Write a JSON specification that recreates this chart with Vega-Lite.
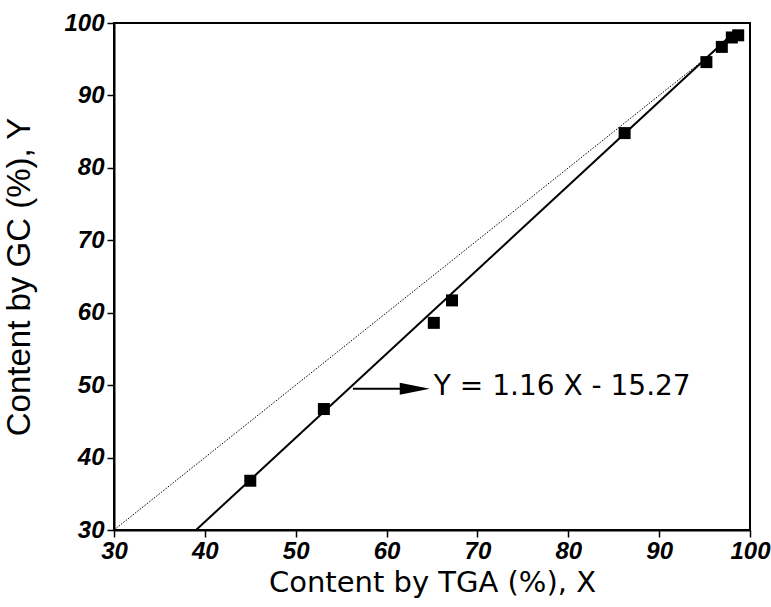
{
  "$schema": "https://vega.github.io/schema/vega-lite/v6.json",
  "width": 636,
  "height": 507,
  "autosize": "none",
  "padding": {"left": 114, "top": 23, "right": 21, "bottom": 77},
  "background": "white",
  "config": {
    "view": {"stroke": "black", "strokeWidth": 2},
    "font": "Liberation Sans",
    "axis": {
      "grid": false,
      "domainColor": "black",
      "domainWidth": 2,
      "tickColor": "black",
      "tickWidth": 1.5,
      "tickSize": 7,
      "labelFlush": false,
      "labelFont": "Liberation Sans",
      "labelFontStyle": "italic",
      "labelFontWeight": "bold",
      "labelFontSize": 24,
      "labelColor": "black",
      "titleFontWeight": "normal",
      "titleColor": "black"
    }
  },
  "datasets": {
    "points": [
      {"x": 45.0, "y": 36.8},
      {"x": 53.1, "y": 46.7},
      {"x": 65.2, "y": 58.6},
      {"x": 67.2, "y": 61.7},
      {"x": 86.2, "y": 84.8},
      {"x": 95.2, "y": 94.6},
      {"x": 96.9, "y": 96.7},
      {"x": 98.0, "y": 98.0},
      {"x": 98.7, "y": 98.3}
    ],
    "fit": [
      {"x": 39.03, "y": 30.0},
      {"x": 98.5, "y": 99.0}
    ],
    "identity": [
      {"x": 30, "y": 30},
      {"x": 95, "y": 95}
    ],
    "arrow": [
      {"x": 56.3, "y": 49.5},
      {"x": 62.0, "y": 49.5}
    ],
    "head": [
      {"x": 63.1, "y": 49.5}
    ],
    "label": [
      {"x": 65.2, "y": 49.7, "text": "Y = 1.16 X - 15.27"}
    ]
  },
  "layer": [
    {
      "data": {"name": "identity"},
      "mark": {"type": "line", "color": "black", "strokeWidth": 1, "strokeDash": [1.5, 1.5], "clip": true},
      "encoding": {
        "x": {
          "field": "x", "type": "quantitative",
          "scale": {"domain": [30, 100], "nice": false, "zero": false},
          "axis": {"values": [30, 40, 50, 60, 70, 80, 90, 100], "title": "Content by TGA (%), X", "titleFont": "DejaVu Sans", "titleFontSize": 29, "titlePadding": 5, "labelPadding": 2}
        },
        "y": {
          "field": "y", "type": "quantitative",
          "scale": {"domain": [30, 100], "nice": false, "zero": false},
          "axis": {"values": [30, 40, 50, 60, 70, 80, 90, 100], "title": "Content by GC (%), Y", "titleFont": "Liberation Sans", "titleFontSize": 33, "titlePadding": 27, "labelPadding": 3}
        }
      }
    },
    {
      "data": {"name": "fit"},
      "mark": {"type": "line", "color": "black", "strokeWidth": 2},
      "encoding": {
        "x": {"field": "x", "type": "quantitative"},
        "y": {"field": "y", "type": "quantitative"}
      }
    },
    {
      "data": {"name": "points"},
      "mark": {"type": "point", "shape": "square", "filled": true, "color": "black", "size": 144, "opacity": 1},
      "encoding": {
        "x": {"field": "x", "type": "quantitative"},
        "y": {"field": "y", "type": "quantitative"}
      }
    },
    {
      "data": {"name": "arrow"},
      "mark": {"type": "line", "color": "black", "strokeWidth": 2},
      "encoding": {
        "x": {"field": "x", "type": "quantitative"},
        "y": {"field": "y", "type": "quantitative"}
      }
    },
    {
      "data": {"name": "head"},
      "mark": {"type": "point", "shape": "M-1,-0.4L1,0L-1,0.4Z", "filled": true, "color": "black", "size": 900, "opacity": 1},
      "encoding": {
        "x": {"field": "x", "type": "quantitative"},
        "y": {"field": "y", "type": "quantitative"}
      }
    },
    {
      "data": {"name": "label"},
      "mark": {"type": "text", "align": "left", "baseline": "middle", "fontSize": 28, "font": "DejaVu Sans", "color": "black"},
      "encoding": {
        "x": {"field": "x", "type": "quantitative"},
        "y": {"field": "y", "type": "quantitative"},
        "text": {"field": "text"}
      }
    }
  ]
}
